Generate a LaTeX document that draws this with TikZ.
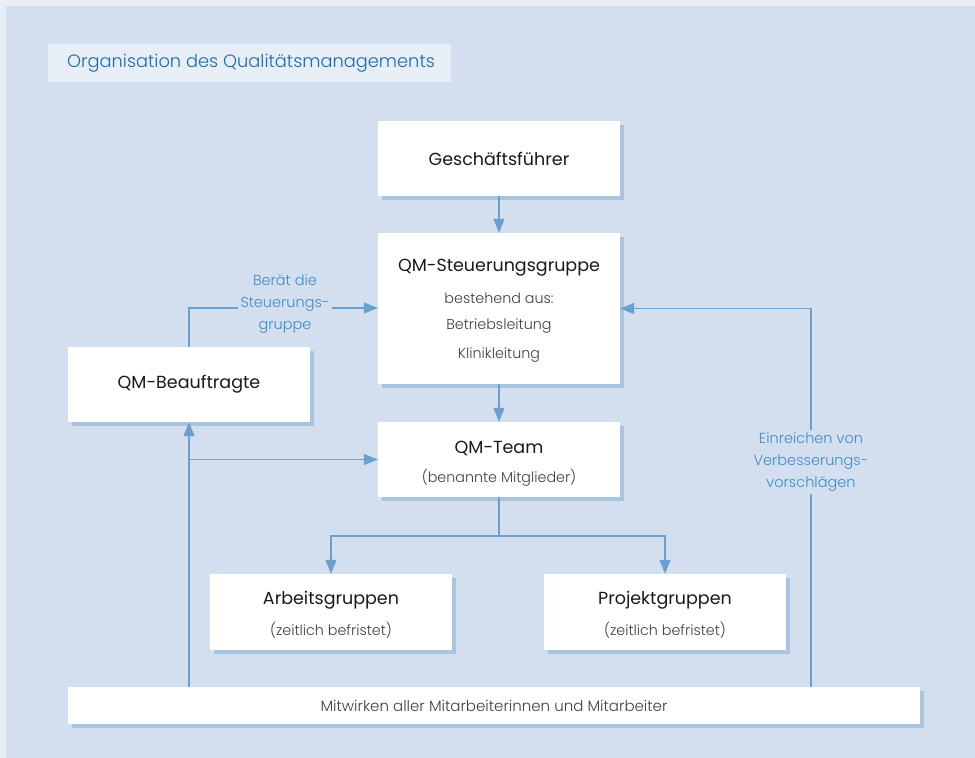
\documentclass[tikz,border=0pt]{standalone}
\usepackage{fontspec}
\setmainfont{Poppins}
\newfontfamily\lightfont{Poppins Light}
\usetikzlibrary{arrows.meta,shadows}
\definecolor{bgouter}{HTML}{E8EEF6}
\definecolor{bgmain}{HTML}{D3DFEE}
\definecolor{shadowc}{HTML}{A7C4E0}
\definecolor{linec}{HTML}{6A9FD0}
\definecolor{labelc}{HTML}{3D8BC9}
\definecolor{titlec}{HTML}{1A6BB0}
\definecolor{textc}{HTML}{1A1A1A}
\definecolor{subc}{HTML}{404040}
\tikzset{
  box/.style={fill=white, minimum width=242pt, minimum height=75pt, inner sep=0pt,
    drop shadow={shadow xshift=4pt, shadow yshift=-4pt, fill=shadowc, opacity=1}},
  maintext/.style={font=\fontsize{17.5}{20}\selectfont, text=textc, inner sep=0pt},
  subtext/.style={font=\lightfont\fontsize{14.3}{16}\selectfont, text=subc, inner sep=0pt},
  lbl/.style={font=\lightfont\fontsize{14.5}{22}\selectfont, text=labelc, align=center, inner sep=2pt},
  lnk/.style={draw=linec, line width=1.2pt},
  conn/.style={lnk, -{Triangle[length=14pt,width=11pt]}}
}
\begin{document}
\begin{tikzpicture}[x=1pt,y=-1pt]
\useasboundingbox (0,0) rectangle (975,758);
\fill[bgouter] (0,0) rectangle (975,758);
\fill[bgmain] (6,6) rectangle (975,758);

% title
\node[fill=bgouter, minimum width=403pt, minimum height=38pt, inner sep=0pt] (titlebox) at (249.5,63) {};
\node[anchor=west, font=\lightfont\fontsize{17.8}{20}\selectfont, text=titlec, inner sep=0pt] (title) at (67,63) {Organisation des Qualitätsmanagements};

% boxes
\node[box] (gf) at (499,158.5) {};
\node[maintext] (gft) at (gf) {Geschäftsführer};

\node[box, minimum height=151pt] (sg) at (499,308.5) {};
\node[maintext] (sgt) at (499,268) {QM-Steuerungsgruppe};
\node[subtext] (sg1) at (499,298) {bestehend aus:};
\node[subtext] (sg2) at (499,326) {Betriebsleitung};
\node[subtext] (sg3) at (499,355) {Klinikleitung};

\node[box] (qb) at (189,384.5) {};
\node[maintext] (qbt) at (qb) {QM-Beauftragte};

\node[box] (team) at (499,459.5) {};
\node[maintext] (teamt) at (499,448) {QM-Team};
\node[subtext] (teams) at (499,478) {(benannte Mitglieder)};

\node[box, minimum height=76pt] (ag) at (331,612) {};
\node[maintext] (agt) at (331,600) {Arbeitsgruppen};
\node[subtext] (ags) at (331,630) {(zeitlich befristet)};

\node[box, minimum height=76pt] (pg) at (665,612) {};
\node[maintext] (pgt) at (665,600) {Projektgruppen};
\node[subtext] (pgs) at (665,630) {(zeitlich befristet)};

\node[box, minimum width=852pt, minimum height=37pt] (mw) at (494,705.5) {};
\node[subtext, font=\lightfont\fontsize{15}{16}\selectfont] (mwt) at (mw) {Mitwirken aller Mitarbeiterinnen und Mitarbeiter};

% labels
\node[lbl] (lab1) at (285,304) {Berät die\\Steuerungs-\\gruppe};
\node[lbl] (lab2) at (811,462) {Einreichen von\\Verbesserungs-\\vorschlägen};

% connectors
\draw[conn] (gf.south) -- (sg.north);
\draw[conn] (sg.south) -- (team.north);
\coordinate (split) at (499,536);
\draw[lnk] (team.south) -- (split);
\draw[conn] (split) -| (ag.north);
\draw[conn] (split) -| (pg.north);

\draw[lnk] (qb.north) |- ([yshift=-4pt]lab1.west);
\draw[conn] ([yshift=-4pt]lab1.east) -- ([yshift=-4pt]lab1.east -| sg.west);

\draw[conn] (mw.north -| qb.south) -- (qb.south);
\draw[conn] (qb.south |- team.west) -- (team.west);

\draw[lnk] (mw.north -| lab2.south) -- (lab2.south);
\draw[conn] (lab2.north) |- (sg.east);
\end{tikzpicture}
\end{document}
